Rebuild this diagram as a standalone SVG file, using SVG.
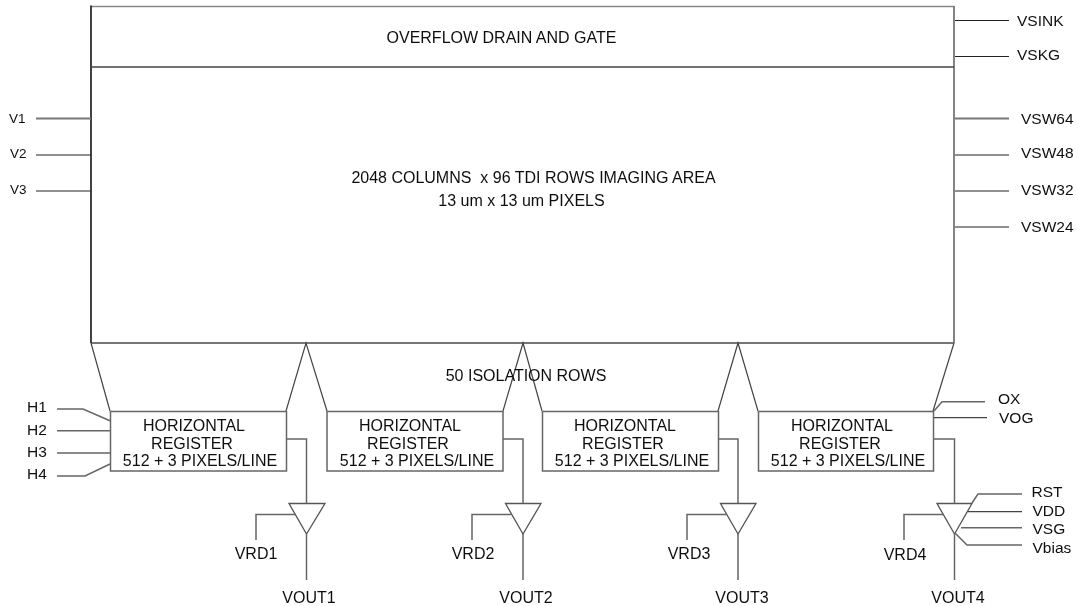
<svg xmlns="http://www.w3.org/2000/svg" width="1078" height="606" viewBox="0 0 1078 606">
<defs><filter id="s" x="-5%" y="-20%" width="110%" height="140%"><feGaussianBlur stdDeviation="0.35"/></filter></defs>
<style>
text{font-family:"Liberation Sans",Arial,sans-serif;font-size:16px;fill:#111;text-anchor:middle;filter:url(#s)}
.s{text-anchor:start;font-size:15.500px}
.v{text-anchor:start;font-size:13.500px}
.b{fill:none;stroke:#666;stroke-width:1.5}
.m{fill:none;stroke:#777;stroke-width:1.8}
.w{fill:none;stroke:#444;stroke-width:1.2}
.d{fill:none;stroke:#222;stroke-width:1.1}
.t{fill:#fff;stroke:#555;stroke-width:1.3}
.r{fill:#fff;stroke:#666;stroke-width:1.5}
</style>
<rect width="1078" height="606" fill="#fff"/>
<g id="imaging-area">
<path class="b" d="M91 6.500H954" style="stroke:#888"/>
<path class="m" d="M954 6V343M91 343H954"/>
<path class="d" d="M91 5.500V343" style="stroke-width:1.700"/>
<path class="w" d="M91 67H954" style="stroke-width:1.500"/>
<text x="501.500" y="43">OVERFLOW DRAIN AND GATE</text>
<text x="533.500" y="183" xml:space="preserve">2048 COLUMNS  x 96 TDI ROWS IMAGING AREA</text>
<text x="521.500" y="205.500">13 um x 13 um PIXELS</text>
</g>
<g id="isolation-rows">
<path class="w" d="M91 343L110 411M286 411L306 343L327 411M503 411L523 343L542 411M718 411L738 343L758 411M933 411L954 343"/>
<text x="526" y="381">50 ISOLATION ROWS</text>
</g>
<g id="register-1">
<rect class="r" x="110.500" y="411.500" width="176" height="59.500"/>
<text x="194" y="430.500">HORIZONTAL</text>
<text x="192" y="448.500">REGISTER</text>
<text x="200" y="466">512 + 3 PIXELS/LINE</text>
</g>
<g id="register-2">
<rect class="r" x="327" y="411.500" width="176" height="59.500"/>
<text x="410" y="430.500">HORIZONTAL</text>
<text x="408" y="448.500">REGISTER</text>
<text x="417" y="466">512 + 3 PIXELS/LINE</text>
</g>
<g id="register-3">
<rect class="r" x="542.500" y="411.500" width="176" height="59.500"/>
<text x="625" y="430.500">HORIZONTAL</text>
<text x="623" y="448.500">REGISTER</text>
<text x="632" y="466">512 + 3 PIXELS/LINE</text>
</g>
<g id="register-4">
<rect class="r" x="758.500" y="411.500" width="175" height="59.500"/>
<text x="842" y="430.500">HORIZONTAL</text>
<text x="840" y="448.500">REGISTER</text>
<text x="848" y="466">512 + 3 PIXELS/LINE</text>
</g>
<g id="amp-1"><polygon class="t" points="289,503.500 325,503.500 306.500,534"/></g>
<g id="amp-2"><polygon class="t" points="505.500,503.500 541,503.500 523,534"/></g>
<g id="amp-3"><polygon class="t" points="720.500,503.500 756,503.500 738,534"/></g>
<g id="amp-4"><polygon class="t" points="937,503.500 972,503.500 954.500,534"/></g>
<g id="connectors">
<path class="d" d="M36 155H91M36 191H91M955 20.500H1009M955 56.500H1009M955 155H1009M955 191H1009M955 227H1009"/>
<path class="m" d="M36 118.500H91M955 118.500H1009"/>
<path class="b" d="M57 409H83L110 420.700M57 430.700H110M57 453H110M57 476H85L110 464"/>
<path class="b" d="M287 439H306.500V503M306.500 534V580M295 514.500H256V540"/>
<path class="b" d="M503 439H523V503M523 534V580M511 514.500H472V540"/>
<path class="b" d="M718 439H738V503M738 534V580M726 514.500H687V540"/>
<path class="b" d="M934 439H954.500V503M954.500 534V580M943 514.500H904V540"/>
<path class="b" d="M934 411L942 401.700H985M972 503L978 494H1022M961 527.700H1022M955 533L967 545H1022"/>
<path class="w" d="M934 417.700H987M968 511.600H1022"/>
</g>
<g id="labels">
<text class="v" x="9" y="123">V1</text>
<text class="v" x="10" y="158">V2</text>
<text class="v" x="10" y="193.500">V3</text>
<text class="s" x="1017" y="25.500">VSINK</text>
<text class="s" x="1017" y="60">VSKG</text>
<text class="s" x="1021" y="124">VSW64</text>
<text class="s" x="1021" y="158">VSW48</text>
<text class="s" x="1021" y="194.500">VSW32</text>
<text class="s" x="1021" y="232">VSW24</text>
<text class="s" x="27" y="412">H1</text>
<text class="s" x="27" y="435">H2</text>
<text class="s" x="27" y="457">H3</text>
<text class="s" x="27" y="479">H4</text>
<text class="s" x="998" y="404">OX</text>
<text class="s" x="999" y="422.500">VOG</text>
<text class="s" x="1031.500" y="496.500">RST</text>
<text class="s" x="1032.500" y="515.500">VDD</text>
<text class="s" x="1032.500" y="534">VSG</text>
<text class="s" x="1032.500" y="552.500">Vbias</text>
<text x="256" y="559">VRD1</text>
<text x="473" y="559">VRD2</text>
<text x="689" y="559">VRD3</text>
<text x="905" y="559.500">VRD4</text>
<text x="309" y="602.500">VOUT1</text>
<text x="526" y="602.500">VOUT2</text>
<text x="742" y="602.500">VOUT3</text>
<text x="958" y="602.500">VOUT4</text>
</g>
</svg>
